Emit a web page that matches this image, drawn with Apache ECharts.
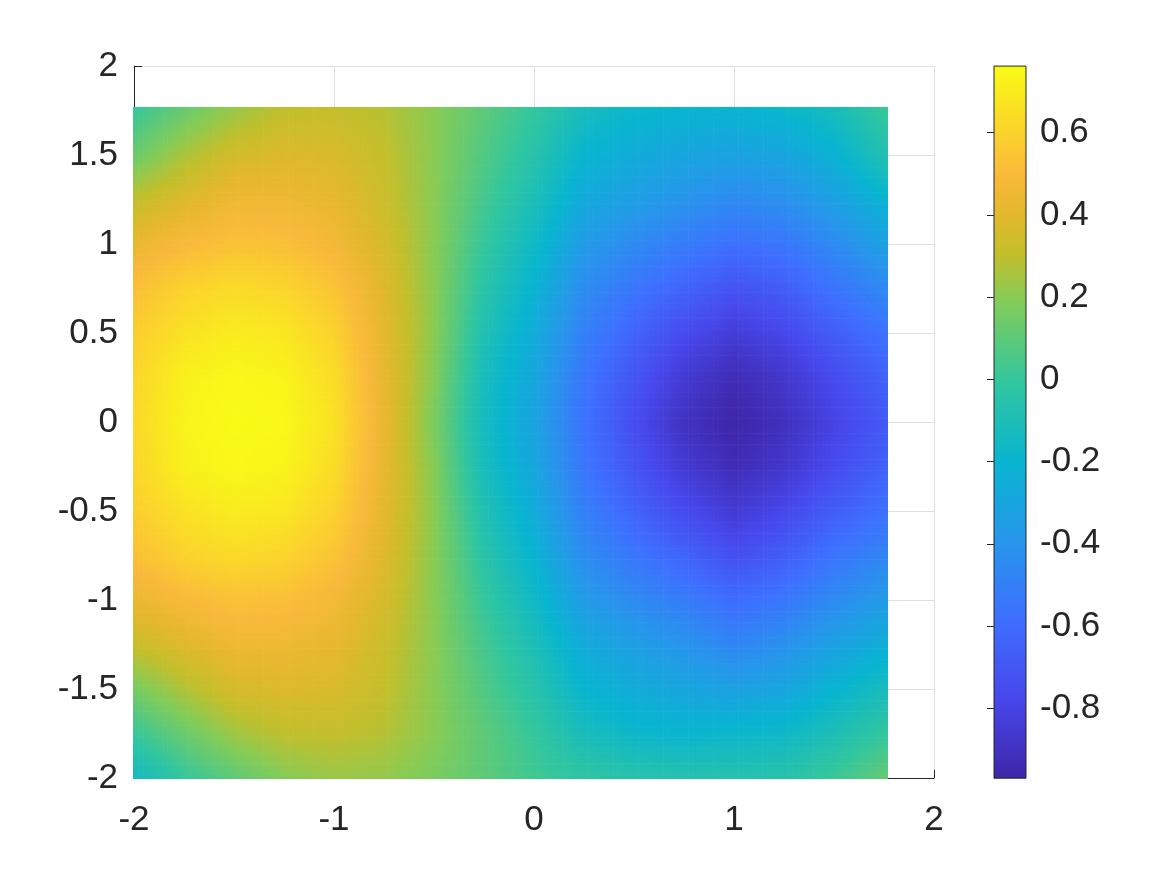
<!DOCTYPE html>
<html>
<head>
<meta charset="utf-8">
<script src="https://cdn.jsdelivr.net/npm/echarts@6/dist/echarts.min.js"></script>
<style>
  html, body { margin: 0; padding: 0; background: #fff; }
  #chart { width: 1167px; height: 875px; }
</style>
</head>
<body>
<div id="chart"></div>
<script>
// grid nodes of the surface (x left->right, y top->bottom)
const xs = [-2, -1.75, -1.5, -1.25, -1, -0.75, -0.5, -0.25, 0, 0.25, 0.5, 0.75, 1, 1.25, 1.5, 1.77];
const ys = [1.77, 1.5, 1.25, 1, 0.75, 0.5, 0.25, 0, -0.25, -0.5, -0.75, -1, -1.25, -1.5, -1.75, -2];

// values, one row per y node
const zRows = [
  [0.00, 0.12, 0.22, 0.30, 0.31, 0.28, 0.20, 0.10, 0.00, -0.12, -0.18, -0.20, -0.20, -0.18, -0.12, 0.02],
  [0.13, 0.26, 0.35, 0.38, 0.37, 0.31, 0.20, 0.07, -0.05, -0.20, -0.26, -0.30, -0.32, -0.30, -0.22, -0.07],
  [0.30, 0.38, 0.45, 0.45, 0.42, 0.33, 0.20, 0.04, -0.10, -0.27, -0.34, -0.40, -0.45, -0.42, -0.33, -0.20],
  [0.43, 0.49, 0.53, 0.52, 0.47, 0.36, 0.20, 0.00, -0.16, -0.36, -0.45, -0.52, -0.58, -0.55, -0.45, -0.32],
  [0.52, 0.60, 0.63, 0.61, 0.54, 0.39, 0.20, -0.04, -0.21, -0.44, -0.55, -0.64, -0.72, -0.67, -0.56, -0.45],
  [0.58, 0.66, 0.70, 0.68, 0.60, 0.41, 0.20, -0.08, -0.26, -0.50, -0.64, -0.76, -0.84, -0.78, -0.67, -0.56],
  [0.61, 0.72, 0.75, 0.73, 0.64, 0.42, 0.19, -0.12, -0.29, -0.55, -0.71, -0.85, -0.93, -0.87, -0.76, -0.64],
  [0.62, 0.73, 0.76, 0.75, 0.66, 0.43, 0.17, -0.14, -0.31, -0.57, -0.75, -0.90, -0.97, -0.91, -0.80, -0.68],
  [0.61, 0.72, 0.75, 0.73, 0.64, 0.42, 0.19, -0.12, -0.29, -0.55, -0.71, -0.85, -0.93, -0.87, -0.76, -0.64],
  [0.58, 0.66, 0.70, 0.68, 0.60, 0.41, 0.20, -0.08, -0.26, -0.50, -0.64, -0.76, -0.85, -0.78, -0.67, -0.57],
  [0.52, 0.60, 0.63, 0.61, 0.54, 0.39, 0.20, -0.04, -0.21, -0.44, -0.55, -0.64, -0.74, -0.67, -0.56, -0.47],
  [0.43, 0.49, 0.53, 0.52, 0.47, 0.36, 0.20, 0.00, -0.16, -0.36, -0.45, -0.52, -0.60, -0.55, -0.45, -0.36],
  [0.32, 0.39, 0.45, 0.45, 0.42, 0.33, 0.20, 0.04, -0.10, -0.27, -0.34, -0.40, -0.48, -0.42, -0.33, -0.24],
  [0.16, 0.27, 0.36, 0.38, 0.37, 0.31, 0.20, 0.07, -0.05, -0.20, -0.26, -0.30, -0.33, -0.30, -0.21, -0.12],
  [0.01, 0.13, 0.24, 0.30, 0.31, 0.28, 0.20, 0.10, 0.00, -0.12, -0.18, -0.20, -0.18, -0.17, -0.10, 0.00],
  [-0.15, 0.00, 0.10, 0.19, 0.23, 0.22, 0.17, 0.10, 0.03, -0.02, -0.05, -0.06, -0.06, -0.05, 0.02, 0.12]
];

// colour limits of the colorbar
const cLimits = [-0.97, 0.762];

// parula-like colormap
const parula = [
  [0.000, '#3e26a8'], [0.111, '#4747eb'], [0.222, '#3e6fff'], [0.333, '#2796eb'],
  [0.444, '#08b5d0'], [0.556, '#31c69f'], [0.667, '#81cc59'], [0.735, '#c2bf2c'],
  [0.790, '#e2b82c'], [0.845, '#f9b93a'], [0.900, '#fbd02e'], [1.000, '#f9fb15']
];
const parulaRgb = parula.map(s => [s[0], parseInt(s[1].slice(1, 3), 16), parseInt(s[1].slice(3, 5), 16), parseInt(s[1].slice(5, 7), 16)]);

function cmap(v) {
  let t = (v - cLimits[0]) / (cLimits[1] - cLimits[0]);
  t = Math.max(0, Math.min(1, t));
  for (let k = 1; k < parulaRgb.length; k++) {
    const a = parulaRgb[k - 1], b = parulaRgb[k];
    if (t <= b[0]) {
      const f = (t - a[0]) / (b[0] - a[0]);
      return 'rgb(' + Math.round(a[1] + (b[1] - a[1]) * f) + ',' + Math.round(a[2] + (b[2] - a[2]) * f) + ',' + Math.round(a[3] + (b[3] - a[3]) * f) + ')';
    }
  }
  return parula[parula.length - 1][1];
}

const cells = [];
for (let i = 0; i < ys.length - 1; i++) {
  for (let j = 0; j < xs.length - 1; j++) {
    cells.push([j, i]);
  }
}

const SUB = 12; // interpolated shading inside each cell
function renderCell(params, api) {
  const j = api.value(0), i = api.value(1);
  const a = api.coord([xs[j], ys[i]]);
  const b = api.coord([xs[j + 1], ys[i + 1]]);
  const z00 = zRows[i][j], z10 = zRows[i][j + 1], z01 = zRows[i + 1][j], z11 = zRows[i + 1][j + 1];
  const w = b[0] - a[0], h = b[1] - a[1];
  const lastRow = i === ys.length - 2, lastCol = j === xs.length - 2;
  const children = [];
  for (let v = 0; v < SUB; v++) {
    const fv = (v + 0.5) / SUB;
    const y0 = a[1] + h * v / SUB;
    const y1 = a[1] + h * (v + 1) / SUB;
    // overlap neighbours; at the bottom edge cover the axis line like the original
    const hh = y1 - y0 + ((v < SUB - 1 || !lastRow) ? 0.6 : 1);
    for (let u = 0; u < SUB; u++) {
      const fu = (u + 0.5) / SUB;
      let x0 = a[0] + w * u / SUB;
      const x1 = a[0] + w * (u + 1) / SUB;
      let ww = x1 - x0 + ((u < SUB - 1 || !lastCol) ? 0.6 : 0);
      if (j === 0 && u === 0) { x0 -= 1; ww += 1; }
      const val = z00 * (1 - fu) * (1 - fv) + z10 * fu * (1 - fv) + z01 * (1 - fu) * fv + z11 * fu * fv;
      children.push({
        type: 'rect',
        shape: { x: x0, y: y0, width: ww, height: hh },
        style: { fill: cmap(val) }
      });
    }
  }
  return { type: 'group', children: children };
}

function renderColorbar(params, api) {
  const p0 = api.coord([0, cLimits[1]]);
  const p1 = api.coord([1, cLimits[0]]);
  const shape = { x: p0[0], y: p0[1], width: p1[0] - p0[0], height: p1[1] - p0[1] };
  return {
    type: 'group',
    children: [
      {
        type: 'rect',
        shape: shape,
        style: {
          fill: {
            type: 'linear', x: 0, y: 1, x2: 0, y2: 0,
            colorStops: parula.map(s => ({ offset: s[0], color: s[1] }))
          }
        }
      },
      {
        type: 'rect',
        shape: shape,
        style: { fill: null, stroke: '#262626', lineWidth: 1 }
      }
    ]
  };
}

const fontFamily = '"Liberation Sans", Arial, Helvetica, sans-serif';
const labelStyle = { color: '#262626', fontSize: 35, fontFamily: fontFamily, lineHeight: 35 };

const chart = echarts.init(document.getElementById('chart'), null, { renderer: 'canvas' });
chart.setOption({
  backgroundColor: '#ffffff',
  animation: false,
  grid: [
    { left: 134, top: 66, width: 800, height: 712 },
    { left: 994, top: 132.7, width: 32, height: 575.6 }
  ],
  xAxis: [
    {
      type: 'value', gridIndex: 0, min: -2, max: 2, interval: 1,
      axisLine: { show: true, onZero: false, lineStyle: { color: '#262626', width: 1 } },
      axisTick: { show: true, inside: true, length: 8, lineStyle: { color: '#262626' } },
      axisLabel: Object.assign({ margin: 25 }, labelStyle),
      splitLine: { show: true, lineStyle: { color: '#dfdfdf', width: 1 } }
    },
    { type: 'value', gridIndex: 1, min: 0, max: 1, show: false }
  ],
  yAxis: [
    {
      type: 'value', gridIndex: 0, min: -2, max: 2, interval: 0.5,
      axisLine: { show: true, onZero: false, lineStyle: { color: '#262626', width: 1 } },
      axisTick: { show: true, inside: true, length: 8, lineStyle: { color: '#262626' } },
      axisLabel: Object.assign({ margin: 16 }, labelStyle),
      splitLine: { show: true, lineStyle: { color: '#dfdfdf', width: 1 } }
    },
    {
      type: 'value', gridIndex: 1, min: -0.8, max: 0.6, interval: 0.2, position: 'right', z: 10,
      axisLine: { show: false },
      axisTick: { show: true, inside: true, length: 7, lineStyle: { color: '#262626' } },
      axisLabel: Object.assign({
        margin: 14,
        formatter: v => String(Math.round(v * 10) / 10)
      }, labelStyle),
      splitLine: { show: false }
    }
  ],
  series: [
    {
      type: 'custom',
      xAxisIndex: 0,
      yAxisIndex: 0,
      silent: true,
      clip: false,
      renderItem: renderCell,
      data: cells
    },
    {
      type: 'custom',
      xAxisIndex: 1,
      yAxisIndex: 1,
      silent: true,
      clip: false,
      renderItem: renderColorbar,
      data: [[0, 0]]
    }
  ]
});
</script>
</body>
</html>
